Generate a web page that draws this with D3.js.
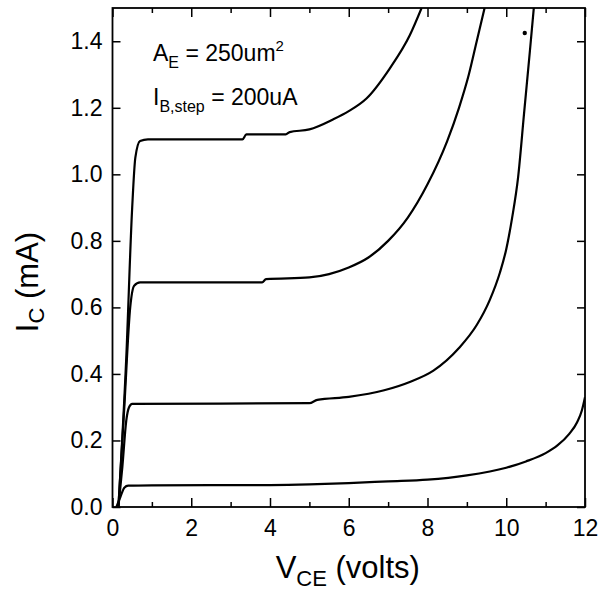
<!DOCTYPE html>
<html>
<head>
<meta charset="utf-8">
<script src="https://cdn.jsdelivr.net/npm/d3@7"></script>
<style>
  html, body { margin: 0; padding: 0; background: #fff; }
  svg { display: block; }
  text { font-family: "Liberation Sans", Arial, Helvetica, sans-serif; fill: #000; }
</style>
</head>
<body>
<svg id="chart" width="601" height="603"></svg>
<script>
// ---- data (V_CE in volts, I_C in mA) ----
const curve1 = [[0.1,0],[0.2,0.03],[0.3,0.058],[0.4,0.064],[1,0.065],[4,0.066],[5,0.068],[6,0.072],[7,0.077],[8,0.082],[9,0.095],[10,0.118],[10.5,0.137],[11,0.162],[11.3,0.185],[11.6,0.22],[11.8,0.255],[11.92,0.29],[12,0.33]];
const curve2 = [[0.15,0],[0.25,0.12],[0.35,0.26],[0.42,0.3],[0.5,0.31],[5.0,0.312],[5.2,0.322],[6,0.331],[6.9,0.351],[7.55,0.376],[8.15,0.41],[8.8,0.478],[9.25,0.547],[9.58,0.622],[9.84,0.705],[10.0,0.775],[10.15,0.87],[10.3,0.99],[10.45,1.18],[10.6,1.37],[10.7,1.5]];
const curve3 = [[0.15,0],[0.3,0.3],[0.45,0.6],[0.55,0.665],[0.7,0.675],[3.8,0.675],[3.9,0.685],[5.0,0.69],[5.5,0.7],[6.0,0.72],[6.5,0.75],[7.0,0.8],[7.5,0.87],[8.0,0.97],[8.5,1.1],[8.8,1.2],[9.05,1.3],[9.25,1.4],[9.45,1.5]];
const curve4 = [[0.15,0],[0.35,0.45],[0.5,0.9],[0.58,1.05],[0.7,1.1],[0.9,1.105],[3.3,1.105],[3.4,1.12],[4.4,1.12],[4.5,1.127],[5.0,1.135],[5.6,1.165],[6.0,1.19],[6.45,1.228],[7.04,1.318],[7.55,1.418],[7.85,1.5]];
const curves = [curve1, curve2, curve3, curve4];
const strayDot = [[10.47, 1.425]];
const xTicks = [0, 2, 4, 6, 8, 10, 12];
const xMinorTicks = [1, 3, 5, 7, 9, 11];
const yTicks = [0.0, 0.2, 0.4, 0.6, 0.8, 1.0, 1.2, 1.4];
const xTitle = ["V", "CE", " (volts)"];
const yTitle = ["I", "C", " (mA)"];

// ---- layout ----
const svg = d3.select("#chart");
const L = 112.5, R = 585, T = 8, B = 507;
const x = d3.scaleLinear().domain([0, 12]).range([L, R]);
const y = d3.scaleLinear().domain([0, 1.5]).range([B, T]);

// axes (inward ticks on all four sides)
const gBottom = svg.append("g").attr("transform", `translate(0,${B})`)
  .call(d3.axisBottom(x).tickValues(xTicks).tickSizeInner(-9).tickSizeOuter(0).tickPadding(13).tickFormat(d3.format("d")));
svg.append("g").attr("transform", `translate(0,${B})`)
  .call(d3.axisBottom(x).tickValues(xMinorTicks).tickSizeInner(-5).tickSizeOuter(0).tickFormat(""));
svg.append("g").attr("transform", `translate(0,${T})`)
  .call(d3.axisTop(x).tickValues(xTicks).tickSizeInner(-9).tickSizeOuter(0).tickFormat(""));
svg.append("g").attr("transform", `translate(0,${T})`)
  .call(d3.axisTop(x).tickValues(xMinorTicks).tickSizeInner(-5).tickSizeOuter(0).tickFormat(""));
svg.append("g").attr("transform", `translate(${L},0)`)
  .call(d3.axisLeft(y).tickValues(yTicks).tickSizeInner(-8).tickSizeOuter(0).tickPadding(10).tickFormat(d3.format(".1f")));
svg.append("g").attr("transform", `translate(${R},0)`)
  .call(d3.axisRight(y).tickValues(yTicks).tickSizeInner(-8).tickSizeOuter(0).tickFormat(""));

svg.selectAll(".domain").remove();
svg.selectAll(".tick line").attr("stroke", "#000").attr("stroke-width", 1.5);
svg.selectAll(".tick text").attr("font-size", 23).attr("font-family", "Liberation Sans, Arial, sans-serif").attr("fill", "#000");
gBottom.selectAll(".tick text").attr("dy", "0.71em");

// frame
svg.append("rect").attr("x", L).attr("y", T).attr("width", R - L).attr("height", B - T)
  .attr("fill", "none").attr("stroke", "#000").attr("stroke-width", 1.8);

// curves
svg.append("clipPath").attr("id", "plotclip").append("rect")
  .attr("x", L).attr("y", T).attr("width", R - L).attr("height", B - T);
const line = d3.line().x(p => x(p[0])).y(p => y(p[1])).curve(d3.curveMonotoneX);
svg.append("g").attr("clip-path", "url(#plotclip)")
  .selectAll("path.curve").data(curves).join("path")
  .attr("class", "curve")
  .attr("d", d => line(d))
  .attr("fill", "none").attr("stroke", "#000").attr("stroke-width", 2.2).attr("stroke-linejoin", "round");

svg.selectAll("circle.dot").data(strayDot).join("circle")
  .attr("class", "dot").attr("cx", d => x(d[0])).attr("cy", d => y(d[1])).attr("r", 2.2).attr("fill", "#000");

// axis titles
const xt = svg.append("text").attr("x", (L + R) / 2 - 1).attr("y", 578).attr("text-anchor", "middle").attr("font-size", 31);
xt.append("tspan").text(xTitle[0]);
xt.append("tspan").attr("font-size", 22).attr("dy", 8).text(xTitle[1]);
xt.append("tspan").attr("dy", -8).text(xTitle[2]);

const yt = svg.append("text").attr("transform", "translate(38,282) rotate(-90)").attr("text-anchor", "middle").attr("font-size", 31);
yt.append("tspan").text(yTitle[0]);
yt.append("tspan").attr("font-size", 22).attr("dy", 6).text(yTitle[1]);
yt.append("tspan").attr("dy", -6).text(yTitle[2]);

// annotations
const a1 = svg.append("text").attr("x", 153).attr("y", 61).attr("font-size", 23);
a1.append("tspan").text("A");
a1.append("tspan").attr("font-size", 16).attr("dy", 7).text("E");
a1.append("tspan").attr("dy", -7).text(" = 250um");
a1.append("tspan").attr("font-size", 15).attr("dy", -10).text("2");

const a2 = svg.append("text").attr("x", 153).attr("y", 105).attr("font-size", 23);
a2.append("tspan").text("I");
a2.append("tspan").attr("font-size", 16).attr("dy", 7).text("B,step");
a2.append("tspan").attr("dy", -7).text(" = 200uA");
</script>
</body>
</html>
